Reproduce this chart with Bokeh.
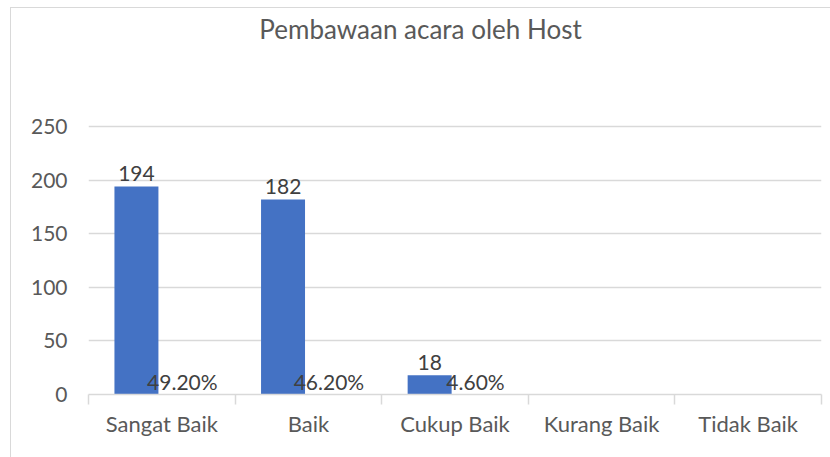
import numpy as np
from bokeh.plotting import figure
from bokeh.models import ColumnDataSource, FixedTicker, LinearAxis, Range1d
from bokeh.core.properties import value
from bokeh.embed import file_html
from bokeh.resources import INLINE

title = "Pembawaan acara oleh Host"
categories = ["Sangat Baik", "Baik", "Cukup Baik", "Kurang Baik", "Tidak Baik"]
counts = [194, 182, 18, 0, 0]
percents = [49.2, 46.2, 4.6, 0, 0]
y_ticks = [0, 50, 100, 150, 200, 250]

FONT = "Lato"
AXIS_COLOR = "#595959"
LABEL_COLOR = "#404040"
GRID_COLOR = "#D9D9D9"
BAR_COLOR = "#4472C4"

idx = np.arange(len(categories))
bar_x = idx + 0.327
pct_x = idx + 0.64

src = ColumnDataSource(dict(
    x=bar_x, top=counts,
    lbl=[str(c) if c > 0 else "" for c in counts],
    px=pct_x, py=[0] * len(categories),
    plbl=[f"{v:.2f}%" if v > 0 else "" for v in percents],
))

p = figure(width=820, height=450, output_backend="svg", toolbar_location=None,
           x_range=Range1d(0, len(categories)), y_range=Range1d(0, 355.4),
           x_axis_location=None, y_axis_location=None,
           min_border_left=77, min_border_right=10, min_border_top=5, min_border_bottom=64)
p.margin = (7, 0, 0, 10)
p.styles = {"border-top": "1px solid #D9D9D9", "border-left": "1px solid #D9D9D9"}
p.outline_line_color = None
p.background_fill_color = "white"
p.border_fill_color = "white"

# y axis (labels only)
yax = LinearAxis(ticker=FixedTicker(ticks=y_ticks))
yax.axis_line_color = None
yax.major_tick_line_color = None
yax.minor_tick_line_color = None
yax.major_label_text_font = FONT
yax.major_label_text_font_size = "21px"
yax.major_label_text_color = AXIS_COLOR
yax.major_label_standoff = 15
p.add_layout(yax, "left")

# x axis: labels at centres, ticks at category boundaries
xax = LinearAxis(ticker=FixedTicker(ticks=list(idx + 0.5), minor_ticks=list(range(len(categories) + 1))))
xax.major_label_overrides = {float(i + 0.5): c for i, c in enumerate(categories)}
xax.axis_line_color = GRID_COLOR
xax.axis_line_width = 1.5
xax.major_tick_line_color = None
xax.major_tick_out = 0
xax.major_tick_in = 0
xax.minor_tick_line_color = GRID_COLOR
xax.minor_tick_line_width = 1.5
xax.minor_tick_out = 10
xax.minor_tick_in = 0
xax.major_label_text_font = FONT
xax.major_label_text_font_size = "22px"
xax.major_label_text_color = AXIS_COLOR
xax.major_label_standoff = 5
p.add_layout(xax, "below")

p.xgrid.visible = False
p.ygrid.ticker = FixedTicker(ticks=y_ticks[1:])
p.ygrid.grid_line_color = GRID_COLOR
p.ygrid.grid_line_width = 1.5

p.vbar(x="x", top="top", width=0.30, bottom=0, source=src,
       fill_color=BAR_COLOR, line_color=None)

p.text(x="x", y="top", text="lbl", source=src, text_align="center", text_baseline="middle",
       y_offset=-13, text_font=value(FONT), text_font_size="21px", text_color=LABEL_COLOR)
p.text(x="px", y="py", text="plbl", source=src, text_align="center", text_baseline="middle",
       y_offset=-13, text_font=value(FONT), text_font_size="21px", text_color=LABEL_COLOR)

tsrc = ColumnDataSource(dict(x=[2.265], y=[341.4], t=[title]))
p.text(x="x", y="y", text="t", source=tsrc, text_align="center", text_baseline="middle",
       text_font=value(FONT), text_font_size="26px", text_color=AXIS_COLOR)

open("out.html", "w").write(file_html(p, INLINE))
